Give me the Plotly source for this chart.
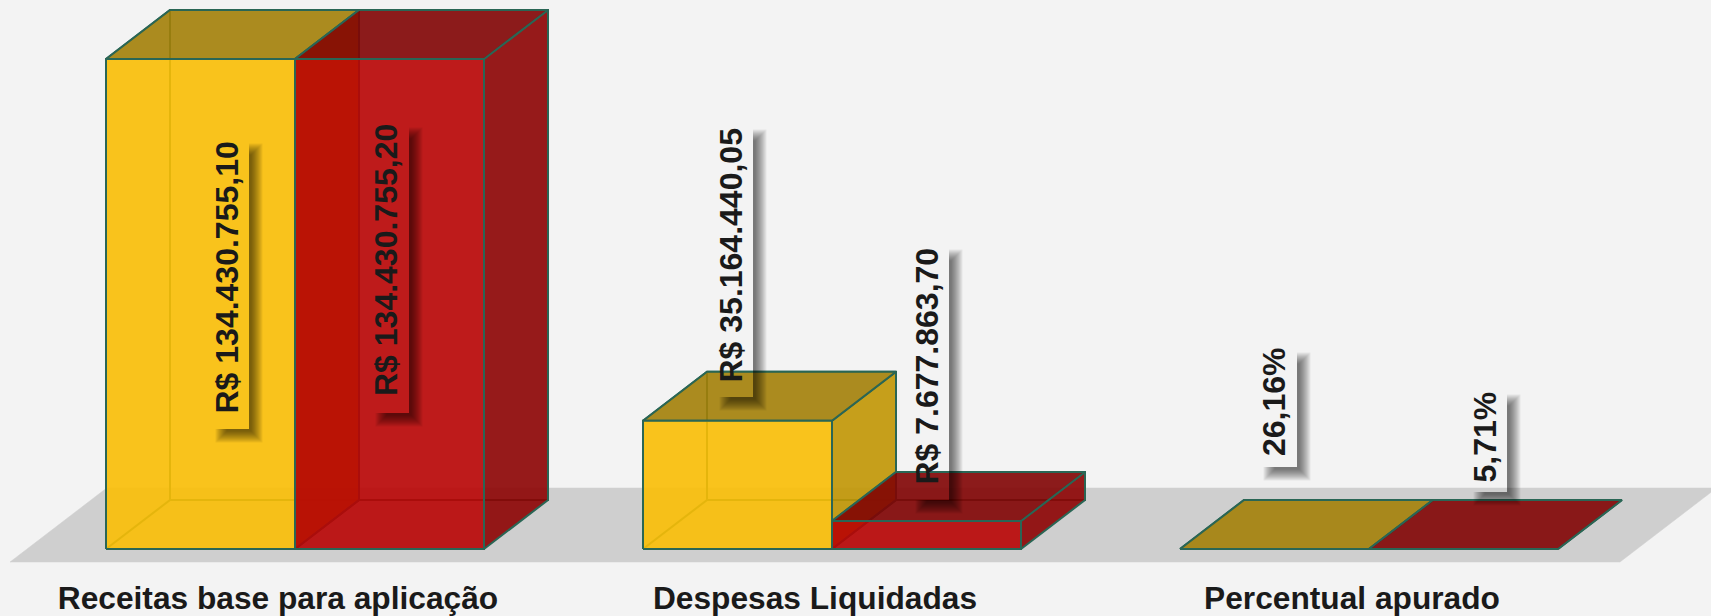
import plotly.graph_objects as go

# ---------- data ----------
categories = ["Receitas base para aplicação", "Despesas Liquidadas", "Percentual apurado"]
series_a = [134430755.10, 35164440.05, 26.16]
series_b = [134430755.20, 7677863.70, 5.71]
labels_a = ["R$ 134.430.755,10", "R$ 35.164.440,05", "26,16%"]
labels_b = ["R$ 134.430.755,20", "R$ 7.677.863,70", "5,71%"]

# ---------- styles ----------
BG, FLOOR = "#f3f3f3", "#cfcfcf"
EDGE = "#2a6655"
ALPHA = 0.9
FACES_A = dict(front=(250, 190, 4), side=(193, 150, 3), top=(163, 127, 8))
FACES_B = dict(front=(184, 3, 3), side=(140, 2, 2), top=(129, 3, 3))
W, H = 1711, 616
PLOT_BOTTOM = 576
X0_PX, UNIT_PX = 295.0, 537.0      # centre of first group, spacing of groups
BASE_PX, MAX_H_PX = 549.0, 490.0   # baseline and height of the largest bar
DEPTH_X, DEPTH_Y = 64.0, 49.0      # oblique projection of the bar depth
BAR_W = 189.0 / UNIT_PX
VMAX = max(series_a + series_b)


def px_x(p):
    return (p - X0_PX) / UNIT_PX


def px_y(p):
    return (BASE_PX - p) / MAX_H_PX * VMAX


DX = DEPTH_X / UNIT_PX
DY = DEPTH_Y / MAX_H_PX * VMAX


def proj(x, v, d=0.0):
    return x + d * DX, v + d * DY


def rgba(c, a=ALPHA):
    return f"rgba({c[0]},{c[1]},{c[2]},{a})"


fig = go.Figure()


def poly(pts, fill, line=EDGE, width=2.0):
    xs = [p[0] for p in pts] + [pts[0][0]]
    ys = [p[1] for p in pts] + [pts[0][1]]
    fig.add_trace(go.Scatter(x=xs, y=ys, mode="lines", fill="toself", fillcolor=fill,
                             line=dict(color=line, width=width), hoverinfo="skip",
                             showlegend=False))


def bar(x0, x1, v, faces):
    # edges of the hidden back walls, seen through the faces
    wall_x, wall_y = zip(*[proj(x0, v, 0), proj(x0, v, 1), proj(x1, v, 1), proj(x1, 0, 1),
                           proj(x0, 0, 1), proj(x0, v, 1), proj(x0, 0, 1), proj(x0, 0, 0)])
    fig.add_trace(go.Scatter(x=wall_x, y=wall_y, mode="lines", hoverinfo="skip", showlegend=False,
                             line=dict(color=EDGE, width=2.0)))
    poly([proj(x1, 0), proj(x1, 0, 1), proj(x1, v, 1), proj(x1, v)], rgba(faces["side"]))
    poly([proj(x0, v), proj(x0, v, 1), proj(x1, v, 1), proj(x1, v)], rgba(faces["top"]))
    poly([proj(x0, 0), proj(x0, v), proj(x1, v), proj(x1, 0)], rgba(faces["front"]))


# floor
fx0, fx1 = -BAR_W - 0.147, len(categories) - 1 + BAR_W + 0.147
d0, d1 = -13 / DEPTH_Y, 61 / DEPTH_Y
poly([proj(fx0, 0, d0), proj(fx0, 0, d1), proj(fx1, 0, d1), proj(fx1, 0, d0)], FLOOR, FLOOR, 0.5)

for i in range(len(categories)):
    bar(i - BAR_W, i, series_a[i], FACES_A)
    bar(i, i + BAR_W, series_b[i], FACES_B)

# ---------- value labels: box (right, top, bottom) in page pixels ----------
label_texts = [labels_a[0], labels_b[0], labels_a[1], labels_b[1], labels_a[2], labels_b[2]]
label_boxes = [(249, 141, 429), (409, 125, 413), (753, 127, 397),
               (949, 247, 500), (1297, 350, 467), (1507, 392, 492)]
label_pad = [14.5, 16, 13.5, 14, 9.5, 8]
shapes, annos = [], []
for text, (R, T, B), pad in zip(label_texts, label_boxes, label_pad):
    L = R - 36
    for k in range(12):
        e = 5.5 - k
        pts = [(R, T + 8 - e), (R + 8 + e, T + 8 - e), (R + 8 + e, B + 8 + e),
               (L + 8 - e, B + 8 + e), (L + 8 - e, B), (R, B)]
        path = "M " + " L ".join(f"{px_x(a):.6f},{px_y(b):.2f}" for a, b in pts) + " Z"
        shapes.append(dict(type="path", path=path, xref="x", yref="y", layer="above",
                           line=dict(width=0), fillcolor="rgba(0,0,0,0.055)"))
    annos.append(dict(x=px_x(R - 23), y=px_y(B - pad), xref="x", yref="y", text=text,
                      textangle=-90, showarrow=False, xanchor="center", yanchor="bottom",
                      font=dict(family="Liberation Sans", size=32, color="#1a1a1a", weight=700),
                      borderpad=0))

fig.update_layout(
    width=W, height=H, autosize=False,
    paper_bgcolor=BG, plot_bgcolor=BG,
    margin=dict(l=0, r=0, t=0, b=H - PLOT_BOTTOM, pad=0),
    showlegend=False, shapes=shapes, annotations=annos,
    xaxis=dict(range=[px_x(0), px_x(W)], showgrid=False, zeroline=False, showline=False,
               automargin=False, ticks="", tickmode="array", tickangle=0,
               tickvals=[i - 17 / UNIT_PX for i in range(len(categories))], ticktext=categories,
               tickfont=dict(family="Liberation Sans", size=31.7, color="#1a1a1a", weight=700)),
    yaxis=dict(range=[px_y(PLOT_BOTTOM), px_y(0)], showgrid=False, zeroline=False,
               automargin=False, showline=False, showticklabels=False, ticks=""),
)
fig.write_html("out.html", config=dict(displayModeBar=False),
               post_script="document.body.style.margin='0';document.body.style.overflow='hidden';"
                           "document.body.style.background='#f3f3f3';")
